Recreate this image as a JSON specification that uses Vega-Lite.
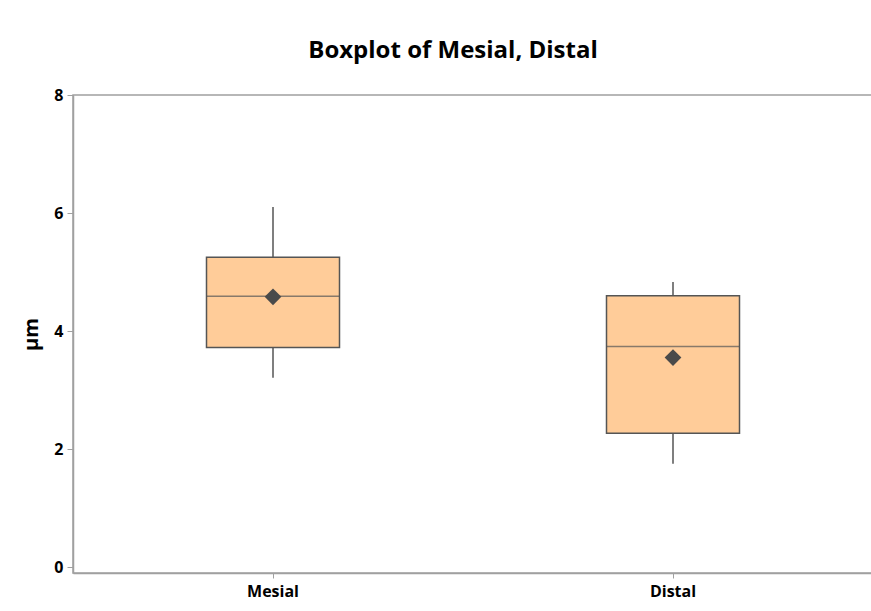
{
  "$schema": "https://vega.github.io/schema/vega-lite/v6.json",
  "autosize": "none",
  "padding": {"left": 73, "top": 95, "right": 0, "bottom": 38},
  "width": 800,
  "height": 478,
  "background": "white",
  "title": {
    "text": "Boxplot of Mesial, Distal",
    "font": "Open Sans",
    "fontSize": 24,
    "fontWeight": "bold",
    "color": "#000000",
    "anchor": "middle",
    "dx": -20,
    "offset": 24
  },
  "data": {
    "values": [
      {"group": "Mesial", "min": 3.21, "q1": 3.72, "median": 4.59, "q3": 5.25, "max": 6.10, "mean": 4.58},
      {"group": "Distal", "min": 1.75, "q1": 2.27, "median": 3.74, "q3": 4.60, "max": 4.83, "mean": 3.55}
    ]
  },
  "encoding": {
    "x": {
      "field": "group",
      "type": "nominal",
      "sort": ["Mesial", "Distal"],
      "scale": {"paddingInner": 0, "paddingOuter": 0},
      "axis": {
        "title": null,
        "labelAngle": 0,
        "bandPosition": 0.5,
        "labelFont": "Open Sans",
        "labelFontSize": 16,
        "labelFontWeight": "bold",
        "labelColor": "#000000",
        "labelPadding": 5,
        "tickSize": 5,
        "tickColor": "#a0a0a0",
        "domainColor": "#a0a0a0",
        "domainWidth": 1.5
      }
    }
  },
  "layer": [
    {
      "mark": {"type": "rule", "color": "#555555", "strokeWidth": 1.5},
      "encoding": {
        "y": {
          "field": "min",
          "type": "quantitative",
          "scale": {"domain": [-0.1, 8], "nice": false, "zero": false},
          "axis": {
            "title": "µm",
            "values": [0, 2, 4, 6, 8],
            "format": "d",
            "grid": false,
            "titleFont": "Open Sans",
            "titleFontSize": 20,
            "titleFontWeight": "bold",
            "titleColor": "#000000",
            "titlePadding": 12,
            "labelFont": "Open Sans",
            "labelFontSize": 16,
            "labelFontWeight": "bold",
            "labelColor": "#000000",
            "labelPadding": 4,
            "tickSize": 6,
            "tickColor": "#a0a0a0",
            "domainColor": "#a0a0a0",
            "domainWidth": 1.5
          }
        },
        "y2": {"field": "max"}
      }
    },
    {
      "mark": {"type": "bar", "fill": "#FFCC99", "stroke": "#555555", "strokeWidth": 1.5, "width": 133},
      "encoding": {
        "y": {"field": "q1", "type": "quantitative"},
        "y2": {"field": "q3"}
      }
    },
    {
      "mark": {"type": "tick", "color": "#555555", "size": 133, "thickness": 1.5},
      "encoding": {
        "y": {"field": "median", "type": "quantitative"}
      }
    },
    {
      "mark": {"type": "point", "shape": "diamond", "filled": true, "color": "#4a4a4a", "size": 280, "opacity": 1},
      "encoding": {
        "y": {"field": "mean", "type": "quantitative"}
      }
    }
  ],
  "config": {
    "view": {"stroke": "#a0a0a0", "strokeWidth": 1.5}
  }
}
